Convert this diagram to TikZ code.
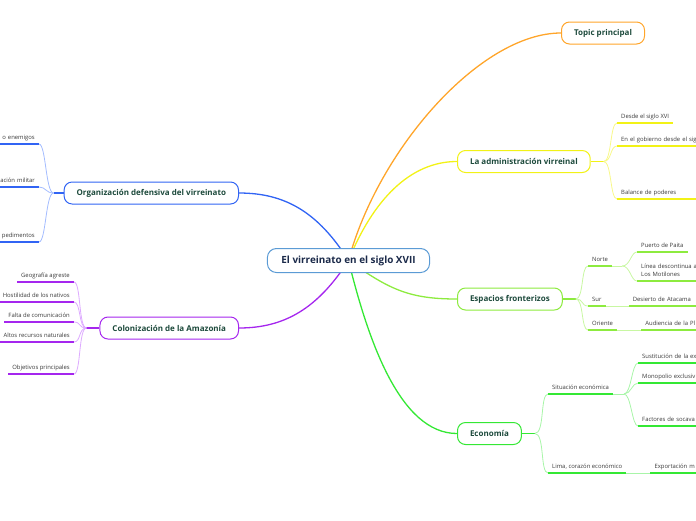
\documentclass[tikz,border=0pt]{standalone}
\usepackage{fontspec}
\setmainfont{Open Sans}
\usepackage{tikz}
\usetikzlibrary{positioning,backgrounds}
\usepackage{xcolor}

\definecolor{rootline}{HTML}{5B9BD5}
\definecolor{roottext}{HTML}{1B2A4A}
\definecolor{topictext}{HTML}{1D4A3C}
\definecolor{leaftext}{HTML}{3A3A3A}
\definecolor{orgblue}{HTML}{3164F4}
\definecolor{orgblueL}{HTML}{A3BCFF}
\definecolor{colpurple}{HTML}{A526EE}
\definecolor{colpurpleL}{HTML}{DDAAFF}
\definecolor{admyellow}{HTML}{F2F216}
\definecolor{admyellowL}{HTML}{F8F88A}
\definecolor{froline}{HTML}{8DEB3F}
\definecolor{frolineL}{HTML}{C8F7A2}
\definecolor{ecogreen}{HTML}{34E834}
\definecolor{ecogreenL}{HTML}{A8F5A8}
\definecolor{topicorange}{HTML}{FFA52A}

\begin{document}
\begin{tikzpicture}[x=1pt,y=-1pt,
  rootbox/.style={draw=rootline,line width=1pt,rounded corners=9pt,fill=white,text=roottext,font=\bfseries\fontsize{9.9}{11}\selectfont,minimum height=24pt,inner xsep=14pt},
  topicbox/.style={draw=#1,line width=1pt,rounded corners=8pt,fill=white,text=topictext,font=\bfseries\fontsize{8}{9}\selectfont,minimum height=22pt,inner xsep=12.5pt},
  leaf/.style={text=leaftext,font=\fontsize{5.9}{8}\selectfont,inner xsep=4pt,inner ysep=3pt,text height=1.5ex,text depth=.3ex},
  cutL/.style={leaf,text width=60pt,align=right},
  cutR/.style={leaf,text width=100pt,align=left},
  branch/.style={line width=1.3pt,draw=#1},
  twig/.style={line width=.8pt,draw=#1},
  ul/.style={line width=2pt,draw=#1}
]
\useasboundingbox (0,0) rectangle (696,520);
\clip (0,0) rectangle (696,520);

% centre and main topics
\node[rootbox] (root) at (348.5,260.5) {El virreinato en el siglo XVII};
\node[topicbox=topicorange,anchor=west] (main) at (561,33) {Topic principal};
\node[topicbox=admyellow,anchor=west] (adm) at (457,161.5) {La administración virreinal};
\node[topicbox=froline,anchor=west] (esp) at (457,299) {Espacios fronterizos};
\node[topicbox=ecogreen,anchor=west] (eco) at (457,433.5) {Economía};
\node[topicbox=orgblue,anchor=east] (org) at (239,193) {Organización defensiva del virreinato};
\node[topicbox=colpurple,anchor=east] (col) at (239,328) {Colonización de la Amazonía};

\begin{scope}[on background layer]
\draw[branch=topicorange] (root.center) .. controls (378,150) and (480,33) .. (main.west);
\draw[branch=admyellow] (root.center) .. controls (373,200) and (410,161.5) .. (adm.west);
\draw[branch=froline] (root.center) .. controls (390,290) and (410,299) .. (esp.west);
\draw[branch=ecogreen] (root.center) .. controls (368,340) and (400,433.5) .. (eco.west);
\draw[branch=orgblue] (root.center) .. controls (318,212) and (285,193) .. (org.east);
\draw[branch=colpurple] (root.center) .. controls (318,308) and (285,328) .. (col.east);
\end{scope}

% defensa
\node[cutL,anchor=south east] (org1) at (39,144) {o enemigos};
\node[cutL,anchor=south east] (org2) at (39,187) {ación militar};
\node[cutL,anchor=south east] (org3) at (39,242) {pedimentos};
\draw[branch=orgblue] (org.west) -- ++(-10,0) coordinate (orgfork);
\foreach \n in {org1,org2,org3}
  \draw[twig=orgblueL] (orgfork) .. controls +(-8,0) and +(7,0) .. (\n.south east);

% Amazonia
\node[leaf,anchor=south east] (col1) at (74,282) {Geografía agreste};
\node[leaf,anchor=south east] (col2) at (74,302) {Hostilidad de los nativos};
\node[leaf,anchor=south east] (col3) at (74,322) {Falta de comunicación};
\node[leaf,anchor=south east] (col4) at (74,342) {Altos recursos naturales};
\node[leaf,anchor=south east] (col5) at (74,374) {Objetivos principales};
\draw[branch=colpurple] (col.west) -- ++(-13,0) coordinate (colfork);
\foreach \n in {col1,col2,col3,col4,col5}
  \draw[twig=colpurpleL] (colfork) .. controls +(-8,0) and +(7,0) .. (\n.south east);

% administracion
\node[leaf,anchor=south west] (adm1) at (617,123) {Desde el siglo XVI};
\node[cutR,anchor=south west] (adm2) at (617,146) {En el gobierno desde el sig};
\node[cutR,anchor=south west] (adm3) at (617,199) {Balance de poderes};
\draw[branch=admyellow] (adm.east) -- ++(13,0) coordinate (admfork);
\foreach \n in {adm1,adm2,adm3}
  \draw[twig=admyellowL] (admfork) .. controls +(8,0) and +(-7,0) .. (\n.south west);

% fronteras
\node[leaf,anchor=south west] (fr1) at (588,266) {Norte};
\node[leaf,anchor=south west] (fr2) at (588,306) {Sur};
\node[leaf,anchor=south west] (fr3) at (588,330) {Oriente};
\draw[branch=froline] (esp.east) -- ++(13,0) coordinate (espfork);
\foreach \n in {fr1,fr2,fr3}
  \draw[twig=frolineL] (espfork) .. controls +(8,0) and +(-7,0) .. (\n.south west);
\node[leaf,anchor=south west] (fr1a) at (637,252) {Puerto de Paita};
\node[cutR,anchor=south west,text depth=9pt] (fr1b) at (637,281) {Línea descontinua a\\Los Motilones};
\draw[twig=frolineL] (fr1.south east) -- ++(10,0) coordinate (nortefork);
\foreach \n in {fr1a,fr1b}
  \draw[twig=frolineL] (nortefork) .. controls +(8,0) and +(-6,0) .. (\n.south west);
\node[cutR,right=23pt of fr2] (fr2a) {Desierto de Atacama};
\node[cutR,right=24pt of fr3] (fr3a) {Audiencia de la Pl};
\draw[twig=frolineL] (fr2.south east) -- (fr2a.south west);
\draw[twig=frolineL] (fr3.south east) -- (fr3a.south west);

% economia
\node[leaf,anchor=south west] (eco1) at (548,394) {Situación económica};
\node[leaf,anchor=south west] (eco2) at (548,473) {Lima, corazón económico};
\draw[branch=ecogreen] (eco.east) -- ++(13,0) coordinate (ecofork);
\foreach \n in {eco1,eco2}
  \draw[twig=ecogreenL] (ecofork) .. controls +(10,0) and +(-8,0) .. (\n.south west);
\node[cutR,anchor=south west] (eco1a) at (638,363) {Sustitución de la ex};
\node[cutR,anchor=south west] (eco1b) at (638,383) {Monopolio exclusiv};
\node[cutR,anchor=south west] (eco1c) at (638,426) {Factores de socava};
\draw[twig=ecogreenL] (eco1.south east) -- ++(11,0) coordinate (sitfork);
\foreach \n in {eco1a,eco1b,eco1c}
  \draw[twig=ecogreenL] (sitfork) .. controls +(7,0) and +(-6,0) .. (\n.south west);
\node[cutR,right=24pt of eco2] (eco2a) {Exportación m};
\draw[twig=ecogreenL] (eco2.south east) -- (eco2a.south west);

% underlines
\foreach \n/\c in {org1/orgblue,org2/orgblue,org3/orgblue,
    col1/colpurple,col2/colpurple,col3/colpurple,col4/colpurple,col5/colpurple,
    adm1/admyellow,adm2/admyellow,adm3/admyellow,
    fr1/froline,fr2/froline,fr3/froline,fr1a/froline,fr1b/froline,fr2a/froline,fr3a/froline,
    eco1/ecogreen,eco2/ecogreen,eco1a/ecogreen,eco1b/ecogreen,eco1c/ecogreen,eco2a/ecogreen}
  \draw[ul=\c] (\n.south west) -- (\n.south east);
\end{tikzpicture}
\end{document}
